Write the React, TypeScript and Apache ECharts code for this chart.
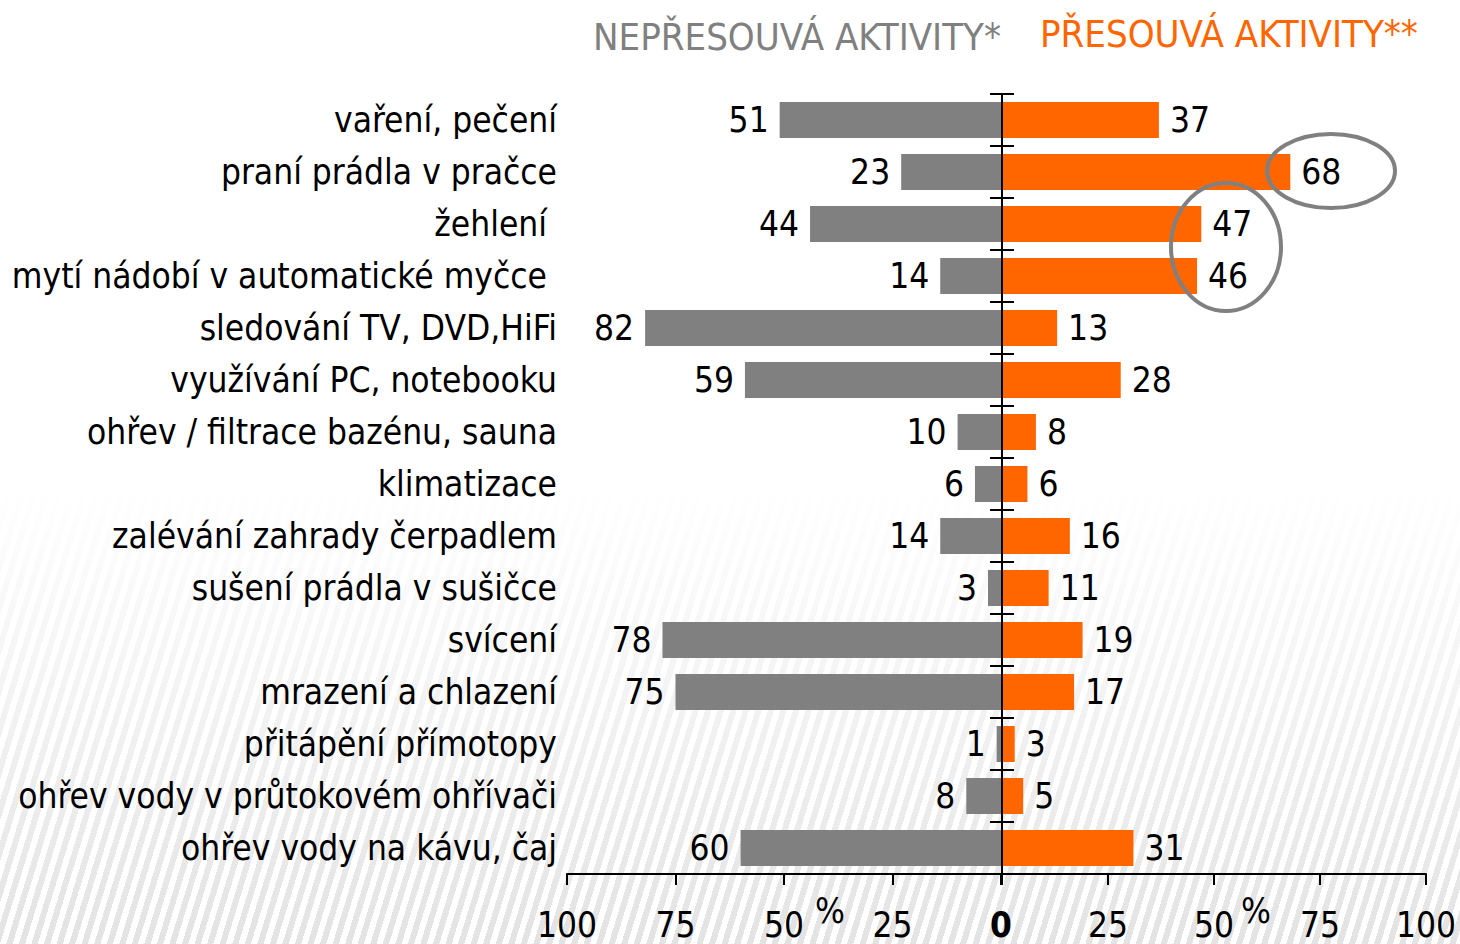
import React, { useEffect, useRef } from "react";
import * as echarts from "echarts";

const categories = [
  "vaření, pečení",
  "praní prádla v pračce",
  "žehlení ",
  "mytí nádobí v automatické myčce ",
  "sledování TV, DVD,HiFi",
  "využívání PC, notebooku",
  "ohřev / filtrace bazénu, sauna",
  "klimatizace",
  "zalévání zahrady čerpadlem",
  "sušení prádla v sušičce",
  "svícení",
  "mrazení a chlazení",
  "přitápění přímotopy",
  "ohřev vody v průtokovém ohřívači",
  "ohřev vody na kávu, čaj",
];

const notShifting = [51, 23, 44, 14, 82, 59, 10, 6, 14, 3, 78, 75, 1, 8, 60];
const shifting = [37, 68, 47, 46, 13, 28, 8, 6, 16, 11, 19, 17, 3, 5, 31];

const axisMax = 100;
const axisStep = 25;

const titleLeft = "NEPŘESOUVÁ AKTIVITY*";
const titleRight = "PŘESOUVÁ AKTIVITY**";
const unitLabel = "%";

const FONT = '"DejaVu Sans Condensed", "DejaVu Sans", sans-serif';
const GRAY = "#808080";
const ORANGE = "#FF6600";

export default function App() {
  const ref = useRef<HTMLDivElement>(null);

  useEffect(() => {
    if (!ref.current) return;
    const chart = echarts.init(ref.current, undefined, { renderer: "svg" });

    const valueAxisBase = {
      type: "value" as const,
      min: 0,
      max: axisMax,
      interval: axisStep,
      splitLine: { show: false },
      axisLine: { show: true, lineStyle: { color: "#000", width: 2 } },
      axisTick: { show: true, length: 11, lineStyle: { color: "#000", width: 2 } },
    };

    const labelStyle = { fontSize: 35, color: "#000", fontFamily: FONT };

    chart.setOption({
      animation: false,
      textStyle: { fontFamily: FONT },
      grid: [
        { left: 567, width: 434, top: 94, height: 780, outerBoundsMode: "none" },
        { left: 1002, width: 424, top: 94, height: 780, outerBoundsMode: "none" },
      ],
      xAxis: [
        {
          ...valueAxisBase,
          gridIndex: 0,
          inverse: true,
          axisLabel: {
            ...labelStyle,
            margin: 33,
            formatter: (v: number) => (v === 0 ? "{b|0}" : String(v)),
            rich: { b: { ...labelStyle, fontWeight: "bold" } },
          },
        },
        {
          ...valueAxisBase,
          gridIndex: 1,
          axisLabel: {
            ...labelStyle,
            margin: 33,
            formatter: (v: number) => (v === 0 ? "" : String(v)),
          },
        },
      ],
      yAxis: [
        {
          gridIndex: 0,
          type: "category",
          data: categories,
          inverse: true,
          position: "left",
          axisLine: { show: false },
          axisTick: { show: false },
          axisLabel: { ...labelStyle, margin: 10 },
        },
        {
          gridIndex: 1,
          type: "category",
          data: categories,
          inverse: true,
          position: "left",
          z: 10,
          axisLine: { show: true, lineStyle: { color: "#000", width: 2 } },
          axisTick: { show: true, length: 12, lineStyle: { color: "#000", width: 2 } },
          axisLabel: { show: false },
        },
        {
          gridIndex: 1,
          type: "category",
          data: categories,
          inverse: true,
          position: "left",
          z: 10,
          axisLine: { show: false },
          axisTick: { show: true, inside: true, length: 12, lineStyle: { color: "#000", width: 2 } },
          axisLabel: { show: false },
        },
      ],
      series: [
        {
          type: "bar",
          name: titleLeft,
          xAxisIndex: 0,
          yAxisIndex: 0,
          data: notShifting,
          barWidth: 36,
          itemStyle: { color: GRAY },
          label: { show: true, position: "left", distance: 11, ...labelStyle },
        },
        {
          type: "bar",
          name: titleRight,
          xAxisIndex: 1,
          yAxisIndex: 1,
          data: shifting,
          barWidth: 36,
          itemStyle: { color: ORANGE },
          label: { show: true, position: "right", distance: 11, ...labelStyle },
        },
      ],
      graphic: [
        {
          type: "text",
          x: 593,
          y: 37,
          style: { text: titleLeft, fill: GRAY, fontSize: 38, fontFamily: FONT, align: "left", verticalAlign: "middle" },
        },
        {
          type: "text",
          x: 1040,
          y: 34,
          style: { text: titleRight, fill: ORANGE, fontSize: 38, fontFamily: FONT, align: "left", verticalAlign: "middle" },
        },
        {
          type: "text",
          x: 830,
          y: 911,
          style: { text: unitLabel, fill: "#000", fontSize: 35, fontFamily: FONT, align: "center", verticalAlign: "middle" },
        },
        {
          type: "text",
          x: 1256,
          y: 911,
          style: { text: unitLabel, fill: "#000", fontSize: 35, fontFamily: FONT, align: "center", verticalAlign: "middle" },
        },
        {
          type: "ellipse",
          z: 20,
          shape: { cx: 1331, cy: 171, rx: 64, ry: 37 },
          style: { fill: "none", stroke: GRAY, lineWidth: 4 },
        },
        {
          type: "ellipse",
          z: 20,
          shape: { cx: 1226, cy: 247, rx: 55, ry: 64 },
          style: { fill: "none", stroke: GRAY, lineWidth: 4 },
        },
      ],
    });

    return () => chart.dispose();
  }, []);

  return (
    <div
      style={{
        position: "fixed",
        left: 0,
        top: 0,
        width: 1460,
        height: 944,
        backgroundColor: "#fff",
        backgroundImage:
          "linear-gradient(to bottom, #ffffff 0%, #ffffff 52%, rgba(255,255,255,0.55) 75%, rgba(255,255,255,0) 100%), repeating-linear-gradient(107deg, #ffffff 0px, #ffffff 6px, #e3e3e3 6px, #e3e3e3 12px)",
      }}
    >
      <div ref={ref} style={{ width: 1460, height: 944 }} />
    </div>
  );
}
